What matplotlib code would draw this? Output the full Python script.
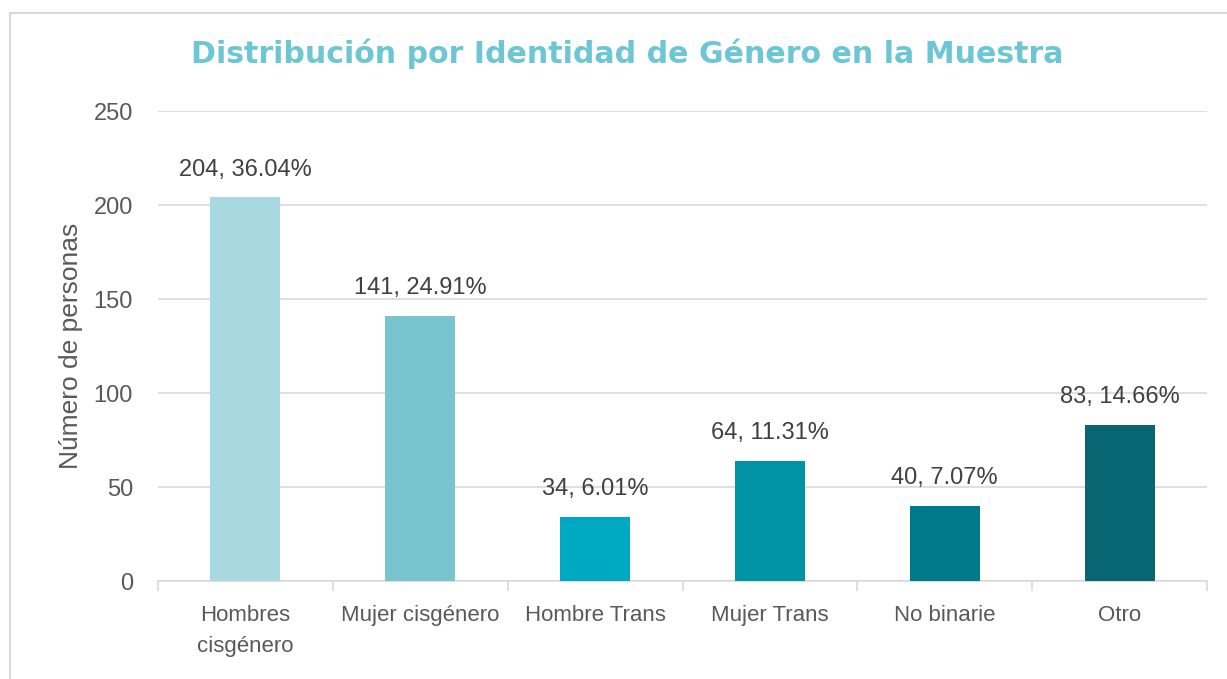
import matplotlib.pyplot as plt
from matplotlib.lines import Line2D
import numpy as np

# Data
categorias = ["Hombres\ncisgénero", "Mujer cisgénero", "Hombre Trans",
              "Mujer Trans", "No binarie", "Otro"]
personas = [204, 141, 34, 64, 40, 83]
porcentajes = ["36.04%", "24.91%", "6.01%", "11.31%", "7.07%", "14.66%"]
colores = ["#A9D9E0", "#78C5D0", "#00A9C2", "#0093A6", "#007A8A", "#086672"]

fig = plt.figure(figsize=(12.27, 6.79), dpi=100)
ax = fig.add_axes([0.1288, 0.1443, 0.8549, 0.6922])

x = np.arange(len(categorias))
bars = ax.bar(x, personas, width=0.4, color=colores, zorder=3)

for b, n, p in zip(bars, personas, porcentajes):
    ax.text(b.get_x() + b.get_width() / 2, n + 9, f"{n}, {p}",
            ha="center", va="bottom", fontsize=17, color="#404040",
            family="Liberation Sans", zorder=4)

ax.set_xlim(-0.5, len(categorias) - 0.5)
ax.set_ylim(0, 250)
ax.set_yticks([0, 50, 100, 150, 200, 250])
ax.grid(axis="y", color="#D9D9D9", linewidth=1.2, zorder=0)

ax.set_xticks(x)
ax.set_xticklabels(categorias, fontsize=16, color="#595959",
                   family="Liberation Sans", linespacing=1.65)
ax.set_xticks(np.arange(len(categorias) + 1) - 0.5, minor=True)
ax.tick_params(axis="x", which="major", length=0, pad=17)
ax.tick_params(axis="x", which="minor", length=7, color="#D9D9D9", width=1.2)
ax.tick_params(axis="y", length=0, pad=18, labelsize=17, labelcolor="#595959")
for lbl in ax.get_yticklabels():
    lbl.set_family("Liberation Sans")

for s in ["top", "right", "left"]:
    ax.spines[s].set_visible(False)
ax.spines["bottom"].set_color("#D9D9D9")
ax.spines["bottom"].set_linewidth(1.2)

ax.set_ylabel("Número de personas", fontsize=19, color="#595959",
              family="Liberation Sans", labelpad=8)

fig.text(0.511, 0.921, "Distribución por Identidad de Género en la Muestra",
         ha="center", va="center", fontsize=21.6, fontweight="bold",
         color="#6CC6D4", family="DejaVu Sans")

# outer chart border (top and left visible)
fig.add_artist(Line2D([9.5 / 1227, 9.5 / 1227], [0, 1 - 13 / 679],
                      transform=fig.transFigure, color="#D9D9D9", lw=1.5))
fig.add_artist(Line2D([9.5 / 1227, 1], [1 - 13 / 679, 1 - 13 / 679],
                      transform=fig.transFigure, color="#D9D9D9", lw=1.5))

fig.savefig("out.png", dpi=100)
